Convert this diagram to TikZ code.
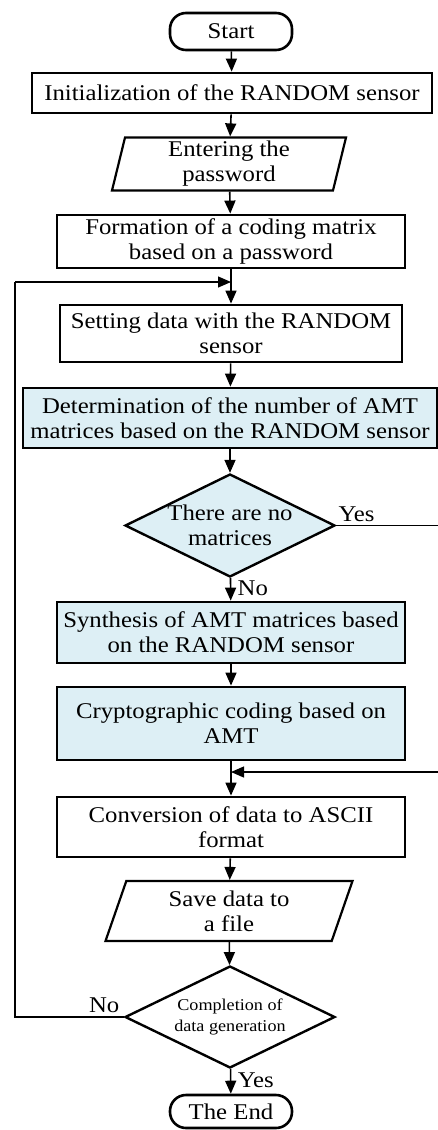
\documentclass[tikz,border=0pt]{standalone}
\usepackage{fontspec}
\setmainfont{Liberation Serif}[FakeStretch=1.1]
\usepackage{tikz}
\usetikzlibrary{arrows.meta,shapes.geometric}

\definecolor{amtfill}{RGB}{221,239,245}

\begin{document}
\begin{tikzpicture}[
      x=1pt, y=-1pt,
      font=\fontsize{22.5}{25}\selectfont,
      term/.style={draw, line width=2.6pt, rounded corners=16pt, align=center,
                   minimum width=122pt, inner sep=0pt},
      proc/.style={draw, line width=2.8pt, align=center, inner sep=0pt},
      hl/.style={proc, fill=amtfill},
      io/.style={draw, line width=2.2pt, trapezium, trapezium stretches body,
                 align=center, inner sep=0pt},
      dec/.style={draw, line width=2.4pt, diamond, aspect=2, align=center,
                  inner sep=-2pt, minimum width=210pt},
      a/.style={-{Triangle[length=13pt,width=11pt]}, line width=1.6pt},
      lp/.style={line width=1.2pt},
    ]
    \useasboundingbox (0,0) rectangle (438,1130);
    % main column
    \node[term] (start) at (231, 31.5) [minimum height=37pt] {Start};
    \node[proc] (init)  at (232, 93) [minimum width=400pt, minimum height=40pt]
          {Initialization of the RANDOM sensor};
    \node[io, trapezium left angle=74, trapezium right angle=106,
          minimum width=234pt, minimum height=53pt] (pass) at (229, 164)
          {Entering the\\password};
    \node[proc] (form)  at (231, 241.5) [minimum width=348pt, minimum height=53pt]
          {Formation of a coding matrix\\based on a password};
    \node[proc] (setd)  at (231, 333.5) [minimum width=342pt, minimum height=57pt]
          {Setting data with the RANDOM\\sensor};
    \node[hl] (numb)    at (230, 418) [minimum width=414pt, minimum height=60pt]
          {Determination of the number of AMT\\matrices based on the RANDOM sensor};
    % check for matrices
    \node[dec, fill=amtfill, minimum height=103pt] (nomat) at (230, 525.5)
          {There are no\\matrices};
    \node[hl] (synth)   at (231, 632.5) [minimum width=348pt, minimum height=61pt]
          {Synthesis of AMT matrices based\\on the RANDOM sensor};
    \node[hl] (crypt)   at (231, 723.5) [minimum width=348pt, minimum height=73pt]
          {Cryptographic coding based on\\AMT};
    \node[proc] (conv)  at (231, 827) [minimum width=348pt, minimum height=60pt]
          {Conversion of data to ASCII\\format};
    \node[io, trapezium left angle=63, trapezium right angle=117,
          minimum width=247pt, minimum height=60pt] (save) at (229, 911)
          {Save data to\\a file};
    \node[dec, minimum height=102pt,
          font=\fontsize{16.5}{21}\selectfont] (done) at (230, 1017)
          {Completion of\\data generation};
    \node[term] (stop)  at (231, 1111.5) [minimum height=33pt] {The End};

    % loop and bypass points
    \coordinate (jl) at (231, 282);
    \coordinate (jr) at (231, 772);
    \coordinate (ltop) at (15, 282);
    \coordinate (lbot) at (15, 1017);
    \coordinate (rtop) at (438, 525.5);
    \coordinate (rbot) at (438, 772);

    \draw[a] (start) -- (init);
    \draw[a] (init)  -- (pass);
    \draw[a] (pass)  -- (form);
    \draw[a] (form)  -- (setd);
    \draw[a] (setd)  -- (numb);
    \draw[a] (numb)  -- (nomat);
    \draw[a] (nomat) -- node[right, pos=.45, xshift=3pt]{No} (synth);
    \draw[a] (synth) -- (crypt);
    \draw[a] (crypt) -- (conv);
    \draw[a] (conv)  -- (save);
    \draw[a] (save)  -- (done);
    \draw[a] (done)  -- node[right, pos=.45, xshift=3pt]{Yes} (stop);
    % yes branch leaves on the right, comes back above conversion
    \draw[lp] (nomat.east) -- node[above, pos=.2]{Yes} (rtop);
    \draw[a, line width=1.2pt] (rbot) -- (jr);
    % no branch loops back to data setting
    \draw[lp] (done.west) -- node[above, pos=.18]{No} (lbot) -- (ltop);
    \draw[a, line width=1.2pt] (ltop) -- (jl);
  \end{tikzpicture}
\end{document}
